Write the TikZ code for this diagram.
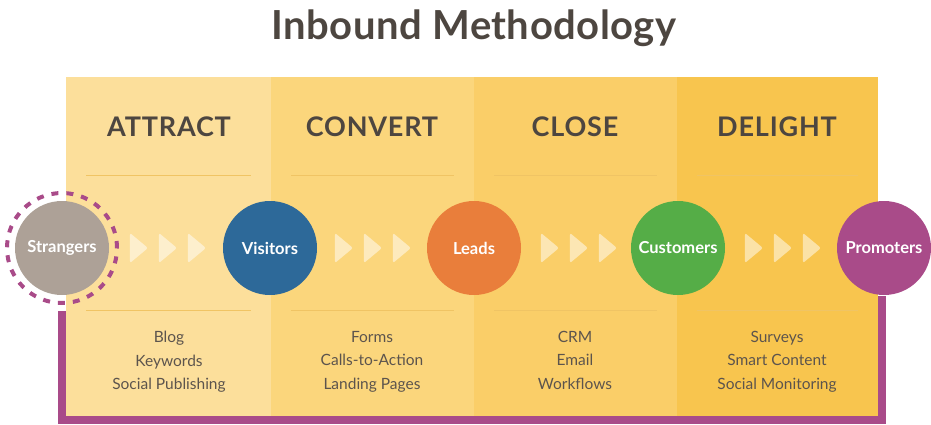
\documentclass[tikz,border=0pt]{standalone}
\usepackage{fontspec}
\setmainfont{Lato}
\newfontfamily\headfont[LetterSpace=3.0]{Lato}
\newfontfamily\titlefont[LetterSpace=1.2]{Lato}
\usetikzlibrary{positioning,shapes.geometric}

\definecolor{panelA}{RGB}{252,223,155}
\definecolor{panelB}{RGB}{251,214,124}
\definecolor{panelC}{RGB}{250,206,104}
\definecolor{panelD}{RGB}{248,197,78}
\definecolor{inkgray}{RGB}{77,70,64}
\definecolor{toolgray}{RGB}{92,84,77}
\definecolor{strangergray}{RGB}{173,161,151}
\definecolor{visitorblue}{RGB}{45,105,153}
\definecolor{leadorange}{RGB}{233,126,59}
\definecolor{customergreen}{RGB}{85,173,71}
\definecolor{promopurple}{RGB}{169,75,137}
\definecolor{ruleline}{RGB}{240,196,100}

\begin{document}
\begin{tikzpicture}[x=1pt, y=-1pt,
	stage/.style={circle, minimum size=94pt, inner sep=0pt, text=white, font=\bfseries\fontsize{16.5}{18}\selectfont},
	phase/.style={font=\headfont\bfseries\fontsize{27}{30}\selectfont, text=inkgray},
	tools/.style={align=center, anchor=north, inner sep=0pt, font=\fontsize{15.5}{23.5}\selectfont, text=toolgray},
	chev/.style={isosceles triangle, isosceles triangle stretches, minimum height=18pt, minimum width=30pt, inner sep=0pt, fill=white, fill opacity=0.5, rounded corners=2pt},
	divider/.style={draw=ruleline, line width=0.8pt},
	cycleline/.style={draw=promopurple, line width=8pt, line join=miter}
]
\useasboundingbox (0,0) rectangle (931,424);

% four phase columns
\fill[panelA] (66,77) rectangle (271,418);
\fill[panelB] (271,77) rectangle (474,418);
\fill[panelC] (474,77) rectangle (677,418);
\fill[panelD] (677,77) rectangle (878,418);

\node[font=\titlefont\bfseries\fontsize{40}{44}\selectfont, text=inkgray] (title) at (474,28) {Inbound Methodology};

\node[phase] (attract) at (169,127) {ATTRACT};
\node[phase] (convert) at (372,127) {CONVERT};
\node[phase] (close) at (575,127) {CLOSE};
\node[phase] (delight) at (777,127) {DELIGHT};

\draw[divider] (86,175) -- (251,175);
\draw[divider] (291,175) -- (454,175);
\draw[divider] (494,175) -- (657,175);
\draw[divider] (697,175) -- (858,175);
\draw[divider] (86,310) -- (251,310);
\draw[divider] (291,310) -- (454,310);
\draw[divider] (494,310) -- (657,310);
\draw[divider] (697,310) -- (858,310);

% the return path from promoters back to strangers
\node[circle, minimum size=110pt, draw=promopurple, line width=4pt, dash pattern=on 7pt off 8pt] (ring) at (62,248) {};
\coordinate (base) at (0,420);
\draw[cycleline] ([yshift=-6pt]ring.south) -- (ring.south |- base) -| (882,296);

\node[stage, fill=strangergray] (strangers) at (62,248) {Strangers};
\node[stage, fill=visitorblue] (visitors) at (270,248) {Visitors};
\node[stage, fill=leadorange] (leads) at (474,248) {Leads};
\node[stage, fill=customergreen] (customers) at (678,248) {Customers};
\node[stage, fill=promopurple] (promoters) at (884,248) {Promoters};

\node[chev] (s1) at ([xshift=75pt]strangers.center) {};
\node[chev] (s2) at ([xshift=104pt]strangers.center) {};
\node[chev] (s3) at ([xshift=133pt]strangers.center) {};
\node[chev] (v1) at ([xshift=72pt]visitors.center) {};
\node[chev] (v2) at ([xshift=101pt]visitors.center) {};
\node[chev] (v3) at ([xshift=130pt]visitors.center) {};
\node[chev] (l1) at ([xshift=74pt]leads.center) {};
\node[chev] (l2) at ([xshift=103pt]leads.center) {};
\node[chev] (l3) at ([xshift=132pt]leads.center) {};
\node[chev] (c1) at ([xshift=74pt]customers.center) {};
\node[chev] (c2) at ([xshift=103pt]customers.center) {};
\node[chev] (c3) at ([xshift=132pt]customers.center) {};

\node[tools] (attracttools) at (169,331) {Blog\\Keywords\\Social Publishing};
\node[tools] (converttools) at (372,331) {Forms\\Calls-to-Action\\Landing Pages};
\node[tools] (closetools) at (575,331) {CRM\\Email\\Workflows};
\node[tools] (delighttools) at (777,331) {Surveys\\Smart Content\\Social Monitoring};
\end{tikzpicture}
\end{document}
